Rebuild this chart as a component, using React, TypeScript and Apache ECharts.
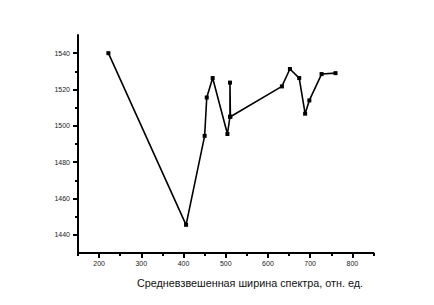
import React, { useEffect, useRef } from "react";
import * as echarts from "echarts";

const xValues = [222, 406, 450, 455, 469, 504, 510, 510, 511, 633, 652, 674, 688, 698, 727, 760];
const yValues = [1540, 1445.5, 1494.5, 1515.6, 1526.3, 1495.5, 1505, 1523.8, 1505, 1521.7, 1531.3, 1526.3, 1506.7, 1514, 1528.5, 1529];
const xMajorTicks = [200, 300, 400, 500, 600, 700, 800];
const xMinorTicks = [150, 250, 350, 450, 550, 650, 750, 850];
const yMajorTicks = [1440, 1460, 1480, 1500, 1520, 1540];
const yMinorTicks = [1450, 1470, 1490, 1510, 1530];
const xTitle = "Средневзвешенная ширина спектра, отн. ед.";

export default function App() {
  const ref = useRef<HTMLDivElement>(null);
  useEffect(() => {
    if (!ref.current) return;
    const chart = echarts.init(ref.current, null, { renderer: "svg" });
    const font = "'Liberation Sans', Arial, sans-serif";
    const axisLine = { show: true, lineStyle: { color: "#000", width: 2 } };
    const plain = (v: number) => String(v);
    chart.setOption({
      animation: false,
      backgroundColor: "#fff",
      grid: { left: 78, right: 60.5, top: 35, bottom: 52, containLabel: false },
      xAxis: [
        {
          type: "value", min: 150, max: 850, position: "bottom",
          axisLine,
          splitLine: { show: false },
          axisTick: { show: true, inside: false, length: 5, customValues: xMajorTicks, lineStyle: { color: "#000", width: 2 } },
          axisLabel: { show: true, customValues: xMajorTicks, formatter: plain, margin: 7, fontSize: 7, color: "#222", fontFamily: font },
        },
        {
          type: "value", min: 150, max: 850, position: "bottom",
          axisLine: { show: false },
          splitLine: { show: false },
          axisTick: { show: true, inside: false, length: 3, customValues: xMinorTicks, lineStyle: { color: "#000", width: 2 } },
          axisLabel: { show: false },
        },
      ],
      yAxis: [
        {
          type: "value", min: 1430, max: 1550, position: "left",
          axisLine,
          splitLine: { show: false },
          axisTick: { show: true, inside: false, length: 5, customValues: yMajorTicks, lineStyle: { color: "#000", width: 2 } },
          axisLabel: { show: true, customValues: yMajorTicks, formatter: plain, margin: 8, fontSize: 7, color: "#222", fontFamily: font },
        },
        {
          type: "value", min: 1430, max: 1550, position: "left",
          axisLine: { show: false },
          splitLine: { show: false },
          axisTick: { show: true, inside: false, length: 3, customValues: yMinorTicks, lineStyle: { color: "#000", width: 2 } },
          axisLabel: { show: false },
        },
      ],
      graphic: [
        {
          type: "text", left: 137, top: 277,
          style: { text: xTitle, fontSize: 10.8, fill: "#111", fontFamily: font },
        },
      ],
      series: [
        {
          type: "line",
          data: xValues.map((x, i) => [x, yValues[i]]),
          symbol: "rect",
          symbolSize: 4,
          showSymbol: true,
          lineStyle: { color: "#000", width: 1.6 },
          itemStyle: { color: "#000" },
        },
      ],
    });
    return () => chart.dispose();
  }, []);
  return <div ref={ref} style={{ position: "fixed", left: 0, top: 0, width: 434, height: 305 }} />;
}
